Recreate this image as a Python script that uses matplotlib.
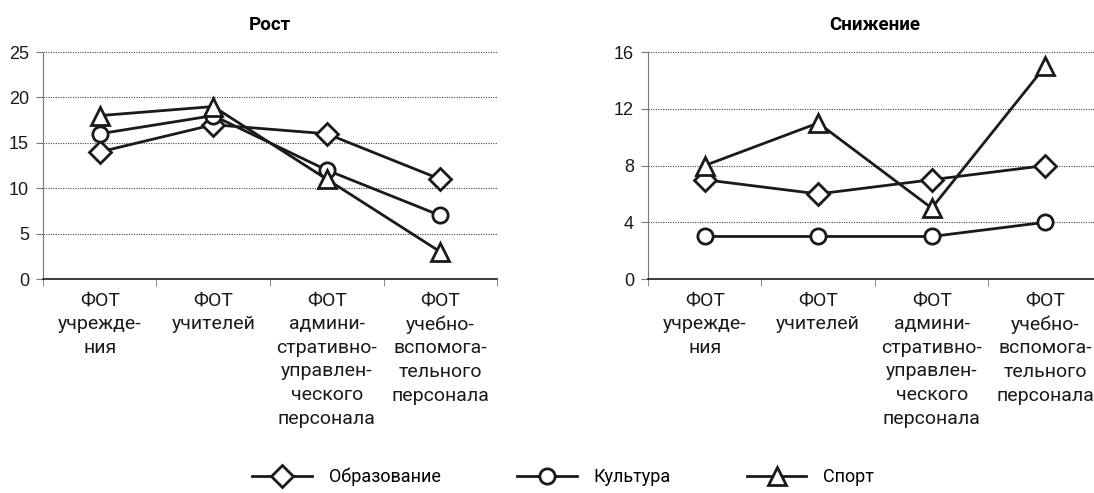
import matplotlib
matplotlib.use("Agg")
import matplotlib.pyplot as plt
from matplotlib import font_manager
from matplotlib.lines import Line2D

# data
categories = [
    "ФОТ\nучрежде-\nния",
    "ФОТ\nучителей",
    "ФОТ\nадмини-\nстративно-\nуправлен-\nческого\nперсонала",
    "ФОТ\nучебно-\nвспомога-\nтельного\nперсонала",
]
series_names = ["Образование", "Культура", "Спорт"]

growth_edu = [14, 17, 16, 11]
growth_cult = [16, 18, 12, 7]
growth_sport = [18, 19, 11, 3]

decline_edu = [7, 6, 7, 8]
decline_cult = [3, 3, 3, 4]
decline_sport = [8, 11, 5, 15]

names = {f.name for f in font_manager.fontManager.ttflist}
num_font = "Liberation Sans Narrow" if "Liberation Sans Narrow" in names else "Liberation Sans"
text_font = "Roboto"

markers = ["D", "o", "^"]
msizes = [11.5, 11, 12.5]
ink = "#1a1a1a"


def draw(ax, title, data, ymax, step):
    x = range(len(categories))
    for vals, m, ms in zip(data, markers, msizes):
        ax.plot(x, vals, color=ink, lw=2, marker=m, ms=ms,
                mfc="white", mec=ink, mew=2, clip_on=False, zorder=3)
    ax.set_xlim(-0.5, 3.5)
    ax.set_ylim(0, ymax)
    ax.set_yticks(range(0, ymax + 1, step))
    for y in range(step, ymax + 1, step):
        ax.axhline(y, color="#444444", lw=0.8, ls=(0, (1, 1.2)), zorder=1)
    ax.set_xticks(list(x))
    ax.set_xticklabels(categories, fontsize=14, family=text_font, linespacing=1.4,
                       color=ink)
    ax.set_xticks([-0.5, 0.5, 1.5, 2.5, 3.5], minor=True)
    ax.tick_params(axis="x", which="major", length=0, pad=9)
    ax.tick_params(axis="x", which="minor", length=5, color="#777777", direction="out")
    ax.tick_params(axis="y", length=5, color="#777777", pad=5, labelsize=13)
    for lab in ax.get_yticklabels():
        lab.set_family(num_font)
        lab.set_color(ink)
    for s in ["top", "right"]:
        ax.spines[s].set_visible(False)
    ax.spines["left"].set_color("#777777")
    ax.spines["bottom"].set_color(ink)
    ax.spines["bottom"].set_linewidth(1.2)
    ax.set_title(title, fontsize=13.5, fontweight="bold", family=text_font, pad=16)


fig = plt.figure(figsize=(10.94, 4.93), dpi=100)
ax1 = fig.add_axes([0.0393, 0.434, 0.415, 0.4604])
ax2 = fig.add_axes([0.5923, 0.434, 0.415, 0.4604])

draw(ax1, "Рост", [growth_edu, growth_cult, growth_sport], 25, 5)
draw(ax2, "Снижение", [decline_edu, decline_cult, decline_sport], 16, 4)

handles = [Line2D([], [], color=ink, lw=2, marker=m, ms=ms, mfc="white",
                  mec=ink, mew=2) for m, ms in zip(markers, msizes)]
fig.legend(handles, series_names, loc="center", bbox_to_anchor=(0.515, 0.032), ncol=3,
           frameon=False, handlelength=3.3, columnspacing=4.2, handletextpad=0.95,
           prop={"family": text_font, "size": 13})

fig.savefig("out.png", dpi=100)
